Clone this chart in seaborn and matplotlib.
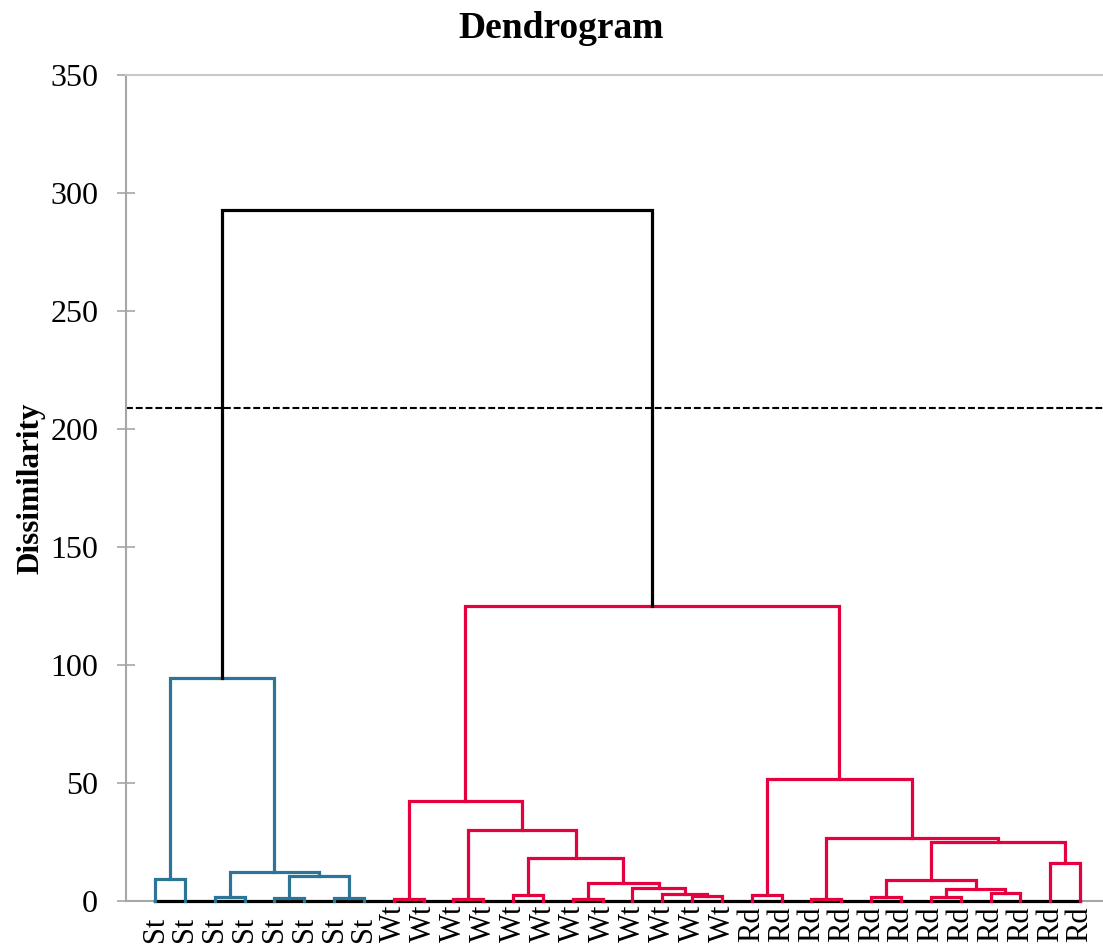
import numpy as np
import pandas as pd
import matplotlib
matplotlib.use("Agg")
import matplotlib.pyplot as plt
import seaborn as sns

# ---------------- data ----------------
leaf_labels = ["St"] * 8 + ["Wt"] * 12 + ["Rd"] * 12
# merges: nodes 0-31 are leaves, merge k creates node 32+k
merge_a = [0, 2, 4, 6, 34, 33, 32,
           8, 10, 12, 14, 18, 17, 16, 42, 41, 40, 39,
           20, 22, 24, 26, 28, 53, 52, 30, 56, 51, 50,
           49, 38]
merge_b = [1, 3, 5, 7, 35, 36, 37,
           9, 11, 13, 15, 19, 43, 44, 45, 46, 47, 48,
           21, 23, 25, 27, 29, 54, 55, 31, 57, 58, 59,
           60, 61]
merge_h = [9.5, 1.7, 1.2, 1.2, 10.6, 12.4, 94.4,
           0.7, 0.7, 2.4, 0.7, 2.1, 2.8, 5.6, 7.8, 18.1, 30.0, 42.4,
           2.4, 0.8, 1.8, 1.8, 3.2, 4.9, 8.8, 16.2, 25.0, 26.6, 51.6,
           125.0, 293.0]
cut_height = 209.0
y_ticks = [0, 50, 100, 150, 200, 250, 300, 350]

# ---------------- build link table ----------------
n_leaves = len(leaf_labels)
node_x = {i: float(i) for i in range(n_leaves)}
node_h = {i: 0.0 for i in range(n_leaves)}
node_groups = {i: {leaf_labels[i]} for i in range(n_leaves)}
rows = []
for k, (a, b, h) in enumerate(zip(merge_a, merge_b, merge_h)):
    nid = n_leaves + k
    node_x[nid] = (node_x[a] + node_x[b]) / 2
    node_h[nid] = h
    node_groups[nid] = node_groups[a] | node_groups[b]
    if h > cut_height:
        grp = "root"
    elif node_groups[nid] == {"St"}:
        grp = "St"
    else:
        grp = "WR"
    pts = [(node_x[a], node_h[a]), (node_x[a], h), (node_x[b], h), (node_x[b], node_h[b])]
    for j, (px, py) in enumerate(pts):
        rows.append({"link": k, "order": j, "x": px, "y": py, "grp": grp})
df = pd.DataFrame(rows)

# ---------------- plot ----------------
sns.set_theme(style="white")
plt.rcParams["font.family"] = ["Liberation Serif", "DejaVu Serif"]
plt.rcParams["lines.solid_joinstyle"] = "miter"
plt.rcParams["lines.solid_capstyle"] = "projecting"
plt.rcParams["text.color"] = "black"
plt.rcParams["axes.labelcolor"] = "black"
plt.rcParams["xtick.labelcolor"] = "black"
plt.rcParams["ytick.labelcolor"] = "black"

W, H = 1103, 947
fig = plt.figure(figsize=(W / 100, H / 100), dpi=100)
ax = fig.add_axes([126 / W, 1 - 901 / H, (W - 126) / W, (901 - 75) / H])

palette = {"St": "#2C7596", "WR": "#E5003F", "root": "#000000"}

sns.lineplot(data=df, x="x", y="y", units="link", hue="grp", palette=palette,
             estimator=None, sort=False, legend=False, linewidth=2.3, ax=ax, zorder=4)
for ln in ax.lines:
    ln.set_clip_on(False)

# baseline under leaves (drawn over the gray spine)
ax.plot([0, n_leaves - 1], [0, 0], color="black", lw=2.3, zorder=3, clip_on=False)

ax.axhline(cut_height, color="black", lw=1.5, dashes=(3.3, 1.4), zorder=1)

ax.set_xlim(-0.972, 31.77)
ax.set_ylim(0, 350)
ax.set_yticks(y_ticks)
ax.set_yticklabels([str(v) for v in y_ticks], fontsize=23, color="black")
ax.tick_params(axis="y", direction="inout", length=13.5, width=1.2,
               color="#A6A6A6", pad=13.3, left=True)
ax.set_xticks(range(n_leaves))
ax.set_xticklabels(leaf_labels, rotation=90, va="bottom", ha="center", fontsize=22,
                   color="black")
ax.tick_params(axis="x", length=0, pad=29.5)

ax.set_xlabel("")
ax.set_ylabel("Dissimilarity", fontsize=22.5, fontweight="bold", color="black")
ax.yaxis.set_label_coords(-0.0819, 0.5)

for side in ["left", "bottom"]:
    ax.spines[side].set_color("#A6A6A6")
    ax.spines[side].set_linewidth(1.5)
ax.spines["top"].set_color("#C8C8C8")
ax.spines["top"].set_linewidth(1.5)
ax.spines["right"].set_visible(False)

fig.text(561 / W, 1 - 28 / H, "Dendrogram", ha="center", va="center",
         fontsize=27, fontweight="bold", color="black")

fig.savefig("out.png", dpi=100)
